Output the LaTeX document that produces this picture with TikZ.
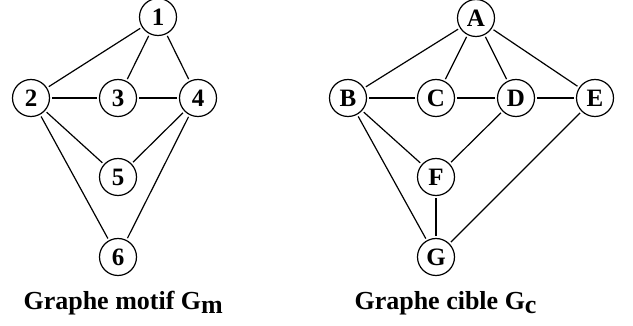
\documentclass[tikz,border=0pt]{standalone}
\usepackage{fontspec}
\setmainfont{Liberation Serif}
\usepackage{amsmath}

\begin{document}
\begin{tikzpicture}[x=1pt,y=-1pt,
		knoten/.style={draw,circle,line width=1.2pt,minimum size=37pt,inner sep=0pt,font=\fontsize{25}{28}\selectfont\bfseries},
		kante/.style={line width=1.2pt,shorten <=2pt,shorten >=2pt}]
				% Rahmen: 633 x 326
				\useasboundingbox (0,0) rectangle (633,326);
				% Graphe motif
				\node[knoten] (n1) at (158,17) {1};
				\node[knoten] (n2) at (31,98) {2};
				\node[knoten] (n3) at (118,98) {3};
				\node[knoten] (n4) at (198,98) {4};
				\node[knoten] (n5) at (118,177) {5};
				\node[knoten] (n6) at (118,257) {6};
				\draw[kante] (n1) -- (n2);
				\draw[kante] (n1) -- (n3);
				\draw[kante] (n1) -- (n4);
				\draw[kante] (n2) -- (n3);
				\draw[kante] (n3) -- (n4);
				\draw[kante] (n2) -- (n5);
				\draw[kante] (n4) -- (n5);
				\draw[kante] (n2) -- (n6);
				\draw[kante] (n4) -- (n6);
				\node[anchor=base west,font=\fontsize{26}{30}\selectfont\bfseries] (motif) at (20,310) {Graphe motif G\raisebox{-0.3ex}{m}};
				% Graphe cible
				\node[knoten] (nA) at (476,18) {A};
				\node[knoten] (nB) at (348,98) {B};
				\node[knoten] (nC) at (436,98) {C};
				\node[knoten] (nD) at (516,98) {D};
				\node[knoten] (nE) at (595,98) {E};
				\node[knoten] (nF) at (436,177) {F};
				\node[knoten] (nG) at (436,257) {G};
				\draw[kante] (nA) -- (nB);
				\draw[kante] (nA) -- (nC);
				\draw[kante] (nA) -- (nD);
				\draw[kante] (nA) -- (nE);
				\draw[kante] (nB) -- (nC);
				\draw[kante] (nC) -- (nD);
				\draw[kante] (nD) -- (nE);
				\draw[kante] (nB) -- (nF);
				\draw[kante] (nD) -- (nF);
				\draw[kante] (nB) -- (nG);
				\draw[kante] (nF) -- (nG);
				\draw[kante] (nE) -- (nG);
				\node[anchor=base west,font=\fontsize{26}{30}\selectfont\bfseries] (cible) at (351,310) {Graphe cible G\raisebox{-0.3ex}{c}};
			\end{tikzpicture}
\end{document}
